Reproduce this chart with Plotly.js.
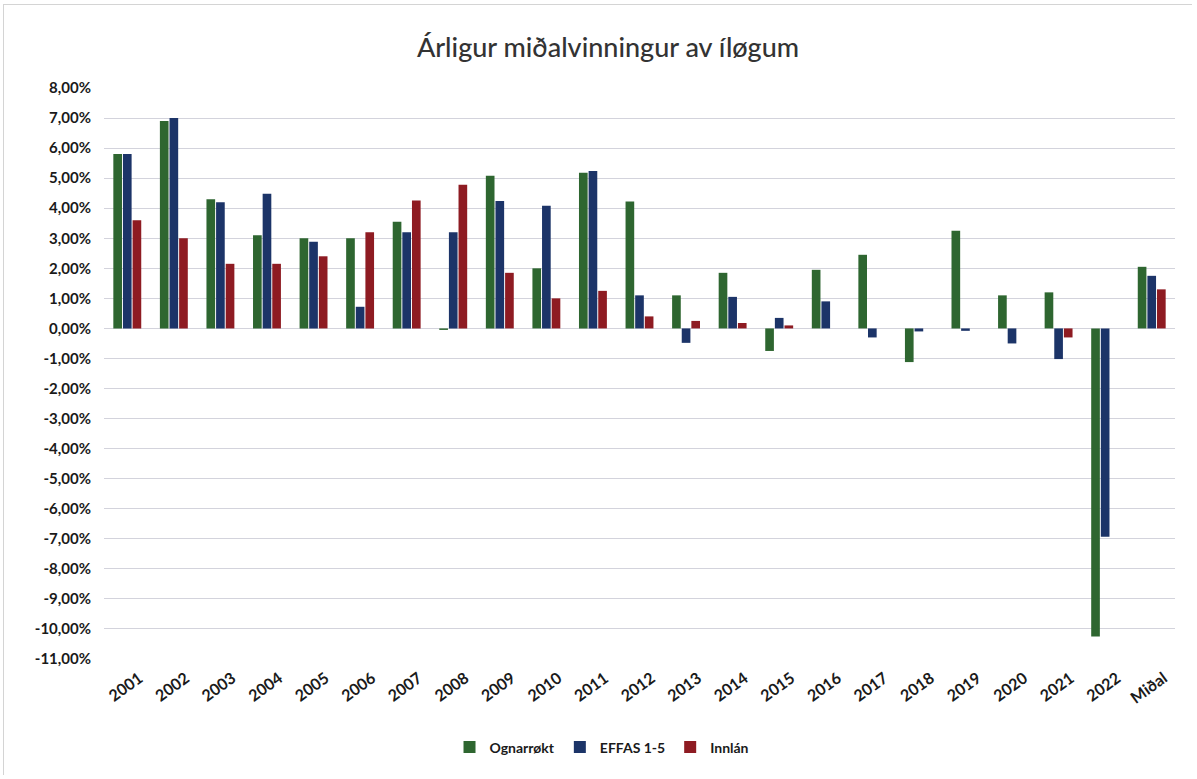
<!DOCTYPE html>
<html><head><meta charset="utf-8">
<script src="https://cdn.plot.ly/plotly-3.0.1.min.js"></script>
<style>html,body{margin:0;padding:0;background:#fff}#c{position:absolute;left:3px;top:4px;width:1189px;height:771px;border:1px solid #d4d4d4;box-sizing:border-box}</style>
</head><body><div id="c"></div>
<script>
const categories = ["2001","2002","2003","2004","2005","2006","2007","2008","2009","2010","2011","2012","2013","2014","2015","2016","2017","2018","2019","2020","2021","2022","Miðal"];
const ognarrokt = [5.8,6.9,4.3,3.1,3.0,3.0,3.55,-0.05,5.08,2.0,5.18,4.22,1.1,1.85,-0.75,1.95,2.45,-1.12,3.25,1.1,1.2,-10.25,2.05];
const effas = [5.8,7.0,4.2,4.48,2.88,0.72,3.2,3.2,4.24,4.08,5.24,1.1,-0.48,1.05,0.35,0.9,-0.3,-0.1,-0.08,-0.5,-1.02,-6.93,1.75];
const innlan = [3.6,3.0,2.15,2.15,2.4,3.2,4.26,4.78,1.85,1.0,1.25,0.4,0.25,0.18,0.1,0,0,0,0,0,-0.3,0,1.3];
const seriesNames = ["Ognarrøkt","EFFAS 1-5","Innlán"];
const yTickVals = [8,7,6,5,4,3,2,1,0,-1,-2,-3,-4,-5,-6,-7,-8,-9,-10,-11];
const yTickText = yTickVals.map(v => (v < 0 ? "-" : "") + Math.abs(v).toFixed(2).replace(".", ",") + "%");

const colors = ["#2e6630","#1c3468","#8e1b22"];
const F = "Lato, 'Open Sans', sans-serif";
const data = [ognarrokt, effas, innlan].map((vals, i) => ({
  type: "bar", x: categories, y: vals, name: seriesNames[i],
  marker: {color: colors[i]}
}));
const layout = {
  width: 1189, height: 771,
  margin: {l: 100, r: 18, t: 83, b: 117},
  paper_bgcolor: "#fff", plot_bgcolor: "#fff",
  title: {text: "Árligur miðalvinningur av íløgum", x: 0.508, xanchor: "center", y: 0.945, yanchor: "middle",
          font: {family: F, size: 27, color: "#333333", weight: 500}},
  bargap: 0.38, bargroupgap: 0.1, barmode: "group",
  xaxis: {type: "category", tickmode: "array", tickvals: categories, ticktext: categories,
          tickangle: -36, tickfont: {family: F, size: 16, color: "#1a1a1a", weight: "bold"},
          automargin: false, ticklabelshift: 12, ticklabelstandoff: 6,
          showgrid: false, zeroline: false, showline: false, ticks: "", fixedrange: true},
  yaxis: {range: [-11, 8], tickvals: yTickVals, ticktext: yTickText, automargin: false,
          tickfont: {family: F, size: 15, color: "#1a1a1a", weight: "bold"},
          ticklabelstandoff: 12,
          gridcolor: "#d3d3dc", gridwidth: 1, zeroline: true, zerolinecolor: "#d3d3dc", zerolinewidth: 1,
          showline: false, ticks: "", ticklen: 0, fixedrange: true},
  showlegend: true,
  legend: {orientation: "h", x: 0.465, xanchor: "center", y: -0.155, yanchor: "middle",
           font: {family: F, size: 14, color: "#1a1a1a", weight: "bold"}, itemwidth: 30, traceorder: "normal"}
};
Plotly.newPlot("c", data, layout, {displayModeBar: false, staticPlot: true});
</script></body></html>
